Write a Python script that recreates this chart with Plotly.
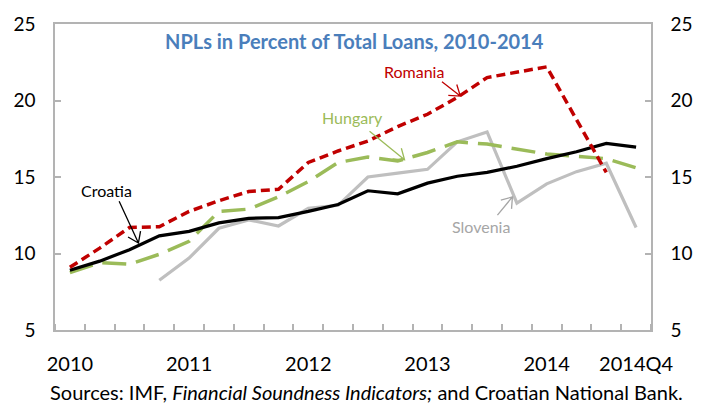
import math
import plotly.graph_objects as go

# Quarterly observations, 2010Q1 .. 2014Q4
quarters = [f"{y}Q{q}" for y in range(2010, 2015) for q in range(1, 5)]
croatia = [8.9, 9.5, 10.25, 11.15, 11.45, 12.0, 12.3, 12.35, 12.75, 13.2,
           14.1, 13.9, 14.6, 15.05, 15.3, 15.7, 16.2, 16.65, 17.2, 16.95]
romania = [9.1, 10.35, 11.7, 11.75, 12.75, 13.45, 14.05, 14.2, 15.95, 16.7,
           17.35, 18.3, 19.1, 20.2, 21.5, 21.85, 22.2, 18.75, 15.3, None]
hungary = [8.75, 9.4, 9.3, 9.95, 10.8, 12.75, 12.9, 13.7, 14.7, 15.95,
           16.3, 16.05, 16.6, 17.3, 17.15, 16.8, 16.5, 16.35, 16.2, 15.6]
slovenia = [None, None, None, 8.25, 9.7, 11.65, 12.2, 11.8, 12.95, 13.15,
            15.0, 15.25, 15.5, 17.3, 17.95, 13.3, 14.55, 15.35, 15.9, 11.7]

tick_labels = {"2010Q1": "2010", "2011Q1": "2011", "2012Q1": "2012",
               "2013Q1": "2013", "2014Q1": "2014", "2014Q4": "2014Q4"}

FONT = "Lato"
RED = "#C00000"
GREEN = "#9BBB59"
GREY = "#BFBFBF"
AXIS = "#B3B3B3"

xpos = list(range(len(quarters)))

fig = go.Figure()
fig.add_trace(go.Scatter(x=xpos, y=slovenia, mode="lines",
                         line=dict(color=GREY, width=3.2)))
fig.add_trace(go.Scatter(x=xpos, y=hungary, mode="lines",
                         line=dict(color=GREEN, width=3.5, dash="24px,10px")))
fig.add_trace(go.Scatter(x=xpos, y=croatia, mode="lines",
                         line=dict(color="#000000", width=3.2)))
fig.add_trace(go.Scatter(x=xpos, y=romania, mode="lines",
                         line=dict(color=RED, width=3.5, dash="9px,5px")))
# invisible trace to carry the right-hand axis
fig.add_trace(go.Scatter(x=[xpos[0]], y=[None], yaxis="y2", showlegend=False,
                         hoverinfo="skip"))

tv = [quarters.index(q) for q in tick_labels]
tt = list(tick_labels.values())

yaxis_common = dict(range=[5, 25], dtick=5, tick0=5, showgrid=False,
                    zeroline=False, showline=True, linecolor=AXIS, linewidth=1.5,
                    ticks="inside", ticklen=6, tickcolor=AXIS, tickwidth=1.5,
                    tickfont=dict(family=FONT, size=19, color="#000000"),
                    ticklabelstandoff=14)

fig.update_layout(
    width=705, height=406,
    margin=dict(l=55, r=42, t=20, b=76),
    paper_bgcolor="white", plot_bgcolor="white",
    showlegend=False,
    xaxis=dict(range=[-0.5, len(quarters) - 0.5], tickvals=tv, ticktext=tt,
               ticks="", showgrid=False, zeroline=False,
               showline=True, mirror=True, linecolor=AXIS, linewidth=1.5,
               tickfont=dict(family=FONT, size=20, color="#000000"),
               ticklabelstandoff=15,
               minor=dict(ticks="inside", tick0=-0.5, dtick=1, ticklen=6,
                          tickcolor=AXIS, tickwidth=1.5, showgrid=False)),
    yaxis=dict(side="left", **yaxis_common),
    yaxis2=dict(side="right", overlaying="y", **yaxis_common),
)

# title inside the plot area
fig.add_annotation(text="<b>NPLs in Percent of Total Loans, 2010-2014</b>",
                   xref="paper", yref="paper", x=0.502, y=0.944,
                   xanchor="center", yanchor="middle",
                   showarrow=False, font=dict(family=FONT, size=20, color="#4A7EBB"))

# source line
fig.add_annotation(text="Sources: IMF, <i>Financial Soundness Indicators;</i> and Croatian National Bank.",
                   xref="paper", yref="paper", x=-0.012, y=-0.202,
                   xanchor="left", yanchor="middle", showarrow=False,
                   font=dict(family=FONT, size=20, color="#000000"))

# series labels with pointer arrows: (text, colour, label pos, tip pos, tail offset px)
labels = [
    ("Croatia", "#000000", (1.24, 14.15), (2.30, 10.69), (-19.3, 41.7)),
    ("Romania", RED, (11.54, 21.92), (13.10, 20.29), (-18.3, 14.4)),
    ("Hungary", GREEN, (9.47, 18.92), (11.23, 16.12), (-35.0, 28.7)),
    ("Slovenia", "#A6A6A6", (13.81, 11.76), (14.85, 13.70), (-15.0, -18.3)),
]
shapes = []
for text, col, (lx, ly), (tx, ty), (dx, dy) in labels:
    fig.add_annotation(text=text, x=lx, y=ly, showarrow=False,
                       xanchor="center", yanchor="middle",
                       font=dict(family=FONT, size=16, color=col))
    ang = math.atan2(dy, dx)
    wl, spread = 12, math.radians(35)
    w1 = (wl * math.cos(ang + spread), wl * math.sin(ang + spread))
    w2 = (wl * math.cos(ang - spread), wl * math.sin(ang - spread))
    path = (f"M {dx:.1f} {dy:.1f} L 0 0 "
            f"M {w1[0]:.1f} {w1[1]:.1f} L 0 0 L {w2[0]:.1f} {w2[1]:.1f}")
    shapes.append(dict(type="path", xref="x", yref="y", xsizemode="pixel",
                       ysizemode="pixel", xanchor=tx, yanchor=ty, path=path,
                       line=dict(color=col, width=1.3)))
fig.update_layout(shapes=shapes)

fig.write_html("out.html")
